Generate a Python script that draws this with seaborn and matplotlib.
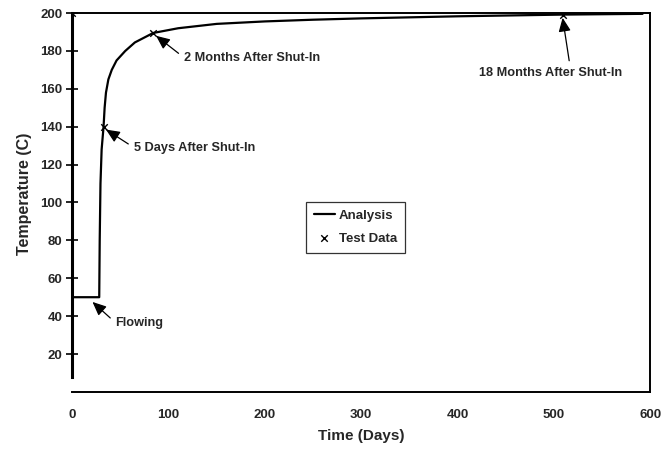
import matplotlib
matplotlib.use('Agg')
import matplotlib.pyplot as plt
import pandas as pd
import seaborn as sns

# analysis curve
time_days = [0, 0, 28, 28.5, 29.3, 30.5, 32.5, 33.6, 35, 37.5, 41, 46, 55, 65, 84,
             110, 150, 200, 250, 300, 400, 509, 592]
temp_c = [200, 50, 50, 80, 110, 128, 140, 150, 158, 165, 170, 175, 180, 184.5, 189.5,
          192, 194.3, 195.6, 196.5, 197.2, 198.3, 199.2, 199.6]

# test data points
test_time = [0, 32.5, 84, 509]
test_temp = [200, 140, 189.5, 199.2]

x_ticks = [0, 100, 200, 300, 400, 500, 600]
y_ticks = [20, 40, 60, 80, 100, 120, 140, 160, 180, 200]

notes = ['2 Months After Shut-In', '5 Days After Shut-In', 'Flowing', '18 Months After Shut-In']
note_xy = [(87, 188), (35, 138.5), (21, 47.5), (509, 197.5)]
note_text = [(116, 176.5), (64, 129), (45, 36.5), (496, 168.5)]

sns.set_style('white')
plt.rcParams['font.family'] = ['Liberation Sans', 'DejaVu Sans']

fig = plt.figure(figsize=(6.69, 4.51), dpi=100)
ax = fig.add_axes([0.108, 0.131, 0.864, 0.840])

curve = pd.DataFrame({'t': time_days, 'T': temp_c})
tests = pd.DataFrame({'t': test_time, 'T': test_temp})
sns.lineplot(data=curve, x='t', y='T', sort=False, estimator=None, color='black',
             lw=1.6, ax=ax, label='Analysis')
sns.scatterplot(data=tests, x='t', y='T', marker='x', color='black', s=22,
                linewidth=1.0, ax=ax, label='Test Data', zorder=5)

ax.set_xlim(0, 600)
ax.set_ylim(0, 200)
ax.set_xticks(x_ticks)
ax.set_yticks(y_ticks)
ax.tick_params(axis='x', bottom=False, length=0, pad=12, labelsize=9.5)
ax.tick_params(axis='y', left=True, direction='inout', length=8, width=1.2,
               color='black', pad=3, labelsize=9.5)
for lab in ax.get_xticklabels() + ax.get_yticklabels():
    lab.set_fontweight('bold')

for s in ax.spines.values():
    s.set_color('black')
    s.set_linewidth(1.4)
ax.spines['left'].set_linewidth(2.2)
ax.spines['left'].set_bounds(8, 200)

ax.set_xlabel('Time (Days)', fontsize=11, fontweight='bold', labelpad=6)
ax.set_ylabel('Temperature (C)', fontsize=11.5, fontweight='bold')
ax.yaxis.set_label_coords(-0.07, 0.522)

for txt, xy, xyt in zip(notes, note_xy, note_text):
    if txt.startswith('18'):
        ha, rel = 'center', (0.64, 1.0)
    else:
        ha, rel = 'left', (0.0, 0.5)
    ax.annotate(txt, xy=xy, xytext=xyt, ha=ha, va='center', fontsize=9.2,
                fontweight='bold',
                arrowprops=dict(arrowstyle='-|>,head_length=0.9,head_width=0.4',
                                color='black', lw=0.9, shrinkA=2, shrinkB=0,
                                relpos=rel))

leg = ax.legend(loc='center', bbox_to_anchor=(0.49, 0.435), frameon=True,
                fancybox=False, edgecolor='black', fontsize=9.5,
                handlelength=1.6, handletextpad=0.3, borderpad=0.6,
                labelspacing=0.8)
leg.get_frame().set_linewidth(0.9)
for t in leg.get_texts():
    t.set_fontweight('bold')

fig.savefig('out.png', dpi=100)
